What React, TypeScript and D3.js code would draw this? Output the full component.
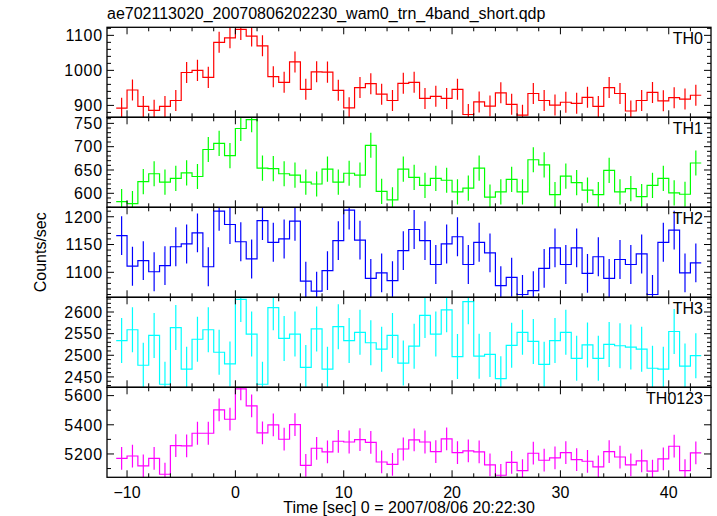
import React from "react";
import * as d3 from "d3";

const TITLE = "ae702113020_20070806202230_wam0_trn_4band_short.qdp";
const X_LABEL = "Time [sec] 0 = 2007/08/06 20:22:30";
const Y_LABEL = "Counts/sec";

// bin centres (s), bins are 1 s wide
const TIME = [
  -10.5, -9.5, -8.5, -7.5, -6.5, -5.5, -4.5, -3.5, -2.5, -1.5, -0.5, 0.5, 1.5, 2.5, 3.5, 4.5, 5.5, 6.5,
  7.5, 8.5, 9.5, 10.5, 11.5, 12.5, 13.5, 14.5, 15.5, 16.5, 17.5, 18.5, 19.5, 20.5, 21.5, 22.5, 23.5,
  24.5, 25.5, 26.5, 27.5, 28.5, 29.5, 30.5, 31.5, 32.5, 33.5, 34.5, 35.5, 36.5, 37.5, 38.5, 39.5,
  40.5, 41.5, 42.5,
];

const TH0 = [
  892, 944, 897, 886, 897, 914, 994, 1000, 980, 1080, 1093, 1117, 1098, 1070, 982, 966, 1024, 946, 996,
  995, 943, 893, 951, 962, 932, 914, 963, 966, 920, 926, 920, 946, 874, 910, 898, 936, 903, 872, 934,
  914, 901, 909, 906, 923, 897, 951, 934, 884, 914, 937, 913, 922, 918, 929,
];
const TH1 = [
  582, 578, 625, 642, 624, 632, 644, 636, 694, 707, 681, 739, 758, 654, 653, 642, 639, 624, 620, 652,
  624, 643, 639, 703, 604, 586, 652, 634, 617, 632, 628, 603, 611, 654, 592, 603, 630, 603, 672, 661,
  597, 637, 623, 607, 597, 649, 603, 610, 593, 617, 632, 601, 598, 665,
];
const TH2 = [
  1166, 1111, 1121, 1101, 1112, 1146, 1151, 1171, 1110, 1210, 1186, 1155, 1124, 1193, 1154, 1160, 1192,
  1084, 1066, 1103, 1157, 1212, 1158, 1089, 1099, 1085, 1139, 1177, 1157, 1114, 1151, 1164, 1114, 1154,
  1135, 1076, 1091, 1060, 1067, 1107, 1144, 1114, 1144, 1098, 1128, 1089, 1123, 1114, 1133, 1060, 1154,
  1176, 1099, 1117,
];
const TH3 = [
  2534, 2559, 2477, 2546, 2433, 2564, 2468, 2537, 2559, 2507, 2480, 2629, 2549, 2433, 2610, 2539, 2549,
  2472, 2561, 2468, 2566, 2534, 2553, 2529, 2514, 2546, 2482, 2521, 2592, 2549, 2605, 2497, 2624, 2498,
  2502, 2446, 2523, 2553, 2532, 2479, 2534, 2553, 2493, 2524, 2493, 2525, 2522, 2519, 2514, 2470, 2468,
  2555, 2475, 2499,
];
const TH0123 = [
  5170, 5186, 5118, 5170, 5061, 5257, 5255, 5342, 5342, 5502, 5438, 5646, 5529, 5344, 5399, 5301, 5401,
  5122, 5239, 5214, 5287, 5282, 5298, 5280, 5145, 5129, 5234, 5296, 5282, 5216, 5303, 5209, 5221, 5214,
  5125, 5054, 5143, 5086, 5205, 5157, 5173, 5209, 5161, 5150, 5111, 5216, 5179, 5125, 5152, 5083, 5166,
  5253, 5086, 5207,
];

const PANEL_NAMES = ["TH0", "TH1", "TH2", "TH3", "TH0123"];
const PANEL_VALUES = [TH0, TH1, TH2, TH3, TH0123];
const PANEL_ERRORS = [30, 27, 35, 52, 78];
const PANEL_COLORS = ["#ff0000", "#00ff00", "#0000ff", "#00ffff", "#ff00ff"];
const PANEL_DOMAINS: [number, number][] = [
  [866, 1123],
  [570, 763],
  [1055, 1217],
  [2426, 2634],
  [5040, 5657],
];
const PANEL_MAJOR = [100, 50, 50, 50, 200];
const PANEL_MINOR = [20, 10, 10, 10, 100];
const X_TICKS = [-10, 0, 10, 20, 30, 40];

const W = 717;
const H = 516;
const LEFT = 107;
const RIGHT = 711;
const TOP = 27.3;
const PH = 90;
const FONT = "'Liberation Sans', Arial, Helvetica, sans-serif";
const FS = 16;

function ticksBetween(lo: number, hi: number, step: number) {
  const out: number[] = [];
  const s = Math.ceil(lo / step) * step;
  for (let v = s; v <= hi + 1e-9; v += step) out.push(Math.round(v * 1000) / 1000);
  return out;
}

export default function App() {
  const x = d3.scaleLinear().domain([-11.85, 43.9]).range([LEFT, RIGHT]);
  const xMinor = ticksBetween(-11.85, 43.9, 2);
  const xMajor = ticksBetween(-11.85, 43.9, 10);

  return (
    <svg
      width={W}
      height={H}
      style={{ position: "absolute", left: 0, top: 0, background: "#fff" }}
      fontFamily={FONT}
    >
      <rect x={0} y={0} width={W} height={H} fill="#fff" />
      <text x={LEFT} y={19} fontSize={FS} fill="#000">
        {TITLE}
      </text>
      {PANEL_NAMES.map((name, pi) => {
        const top = TOP + pi * PH;
        const bottom = top + PH;
        const y = d3.scaleLinear().domain(PANEL_DOMAINS[pi]).range([bottom, top]);
        const vals = PANEL_VALUES[pi];
        const err = PANEL_ERRORS[pi];
        const color = PANEL_COLORS[pi];
        const pts: [number, number][] = [];
        TIME.forEach((t, i) => {
          pts.push([t - 0.5, vals[i]]);
          pts.push([t + 0.5, vals[i]]);
        });
        const line = d3
          .line<[number, number]>()
          .x((d) => x(d[0]))
          .y((d) => y(d[1]));
        const [lo, hi] = PANEL_DOMAINS[pi];
        const yMajor = ticksBetween(lo, hi, PANEL_MAJOR[pi]);
        const yMinor = ticksBetween(lo, hi, PANEL_MINOR[pi]);
        const clipId = `clip-${pi}`;
        return (
          <g key={name}>
            <defs>
              <clipPath id={clipId}>
                <rect x={LEFT} y={top} width={RIGHT - LEFT} height={PH} />
              </clipPath>
            </defs>
            <g clipPath={`url(#${clipId})`}>
              {TIME.map((t, i) => (
                <line
                  key={i}
                  x1={x(t)}
                  x2={x(t)}
                  y1={y(vals[i] - err)}
                  y2={y(vals[i] + err)}
                  stroke={color}
                  strokeWidth={1.2}
                />
              ))}
              <path d={line(pts) || ""} fill="none" stroke={color} strokeWidth={1.2} />
            </g>
            {xMinor.map((v) => {
              const len = xMajor.includes(v) ? 7 : 4;
              return (
                <g key={`xt${v}`} stroke="#000" strokeWidth={1}>
                  <line x1={x(v)} x2={x(v)} y1={bottom} y2={bottom - len} />
                  <line x1={x(v)} x2={x(v)} y1={top} y2={top + len} />
                </g>
              );
            })}
            {yMinor.map((v) => {
              const len = yMajor.includes(v) ? 7 : 4;
              return (
                <g key={`yt${v}`} stroke="#000" strokeWidth={1}>
                  <line x1={LEFT} x2={LEFT + len} y1={y(v)} y2={y(v)} />
                  <line x1={RIGHT} x2={RIGHT - len} y1={y(v)} y2={y(v)} />
                </g>
              );
            })}
            {yMajor.map((v) => (
              <text
                key={`yl${v}`}
                x={LEFT - 4}
                y={y(v)}
                dy="0.36em"
                textAnchor="end"
                fontSize={FS}
                letterSpacing={0.8}
                fill="#000"
              >
                {v}
              </text>
            ))}
            <rect
              x={LEFT}
              y={top}
              width={RIGHT - LEFT}
              height={PH}
              fill="none"
              stroke="#000"
              strokeWidth={1.3}
            />
            <text x={RIGHT - 8} y={top + 16.3} textAnchor="end" fontSize={FS} fill="#000">
              {name}
            </text>
          </g>
        );
      })}
      {X_TICKS.map((v) => (
        <text
          key={`xl${v}`}
          x={x(v)}
          y={497.5}
          textAnchor="middle"
          fontSize={FS}
          fill="#000"
        >
          {v < 0 ? `\u2212${Math.abs(v)}` : v}
        </text>
      ))}
      <text x={(LEFT + RIGHT) / 2} y={513} textAnchor="middle" fontSize={FS} fill="#000">
        {X_LABEL}
      </text>
      <text
        transform={`translate(46, ${TOP + (5 * PH) / 2}) rotate(-90)`}
        textAnchor="middle"
        fontSize={FS}
        fill="#000"
      >
        {Y_LABEL}
      </text>
    </svg>
  );
}
